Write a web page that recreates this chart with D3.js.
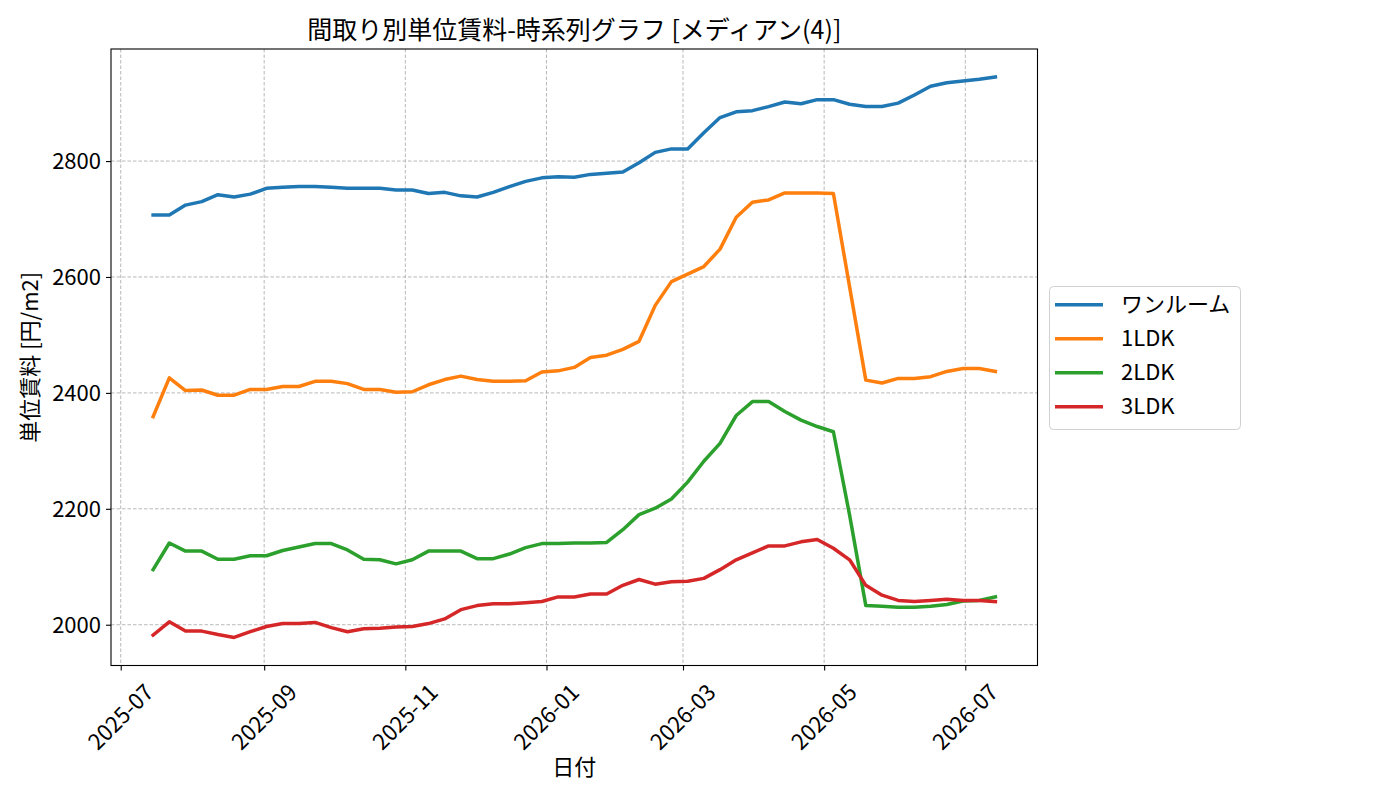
<!DOCTYPE html>
<html lang="ja">
<head>
<meta charset="utf-8">
<script src="https://cdn.jsdelivr.net/npm/d3@7"></script>
<style>
  body { margin: 0; background: #fff; }
  text { font-family: "Noto Sans CJK JP", "Noto Sans", sans-serif; }
</style>
</head>
<body>
<div id="ts-chart"></div>
<script>
// Data (weekly medians)
const dates = [
    "2025-07-15","2025-07-22","2025-07-29","2025-08-05","2025-08-12","2025-08-19","2025-08-26",
    "2025-09-02","2025-09-09","2025-09-16","2025-09-23","2025-09-30","2025-10-07","2025-10-14",
    "2025-10-21","2025-10-28","2025-11-04","2025-11-11","2025-11-18","2025-11-25","2025-12-02",
    "2025-12-09","2025-12-16","2025-12-23","2025-12-30","2026-01-06","2026-01-13","2026-01-20",
    "2026-01-27","2026-02-03","2026-02-10","2026-02-17","2026-02-24","2026-03-03","2026-03-10",
    "2026-03-17","2026-03-24","2026-03-31","2026-04-07","2026-04-14","2026-04-21","2026-04-28",
    "2026-05-05","2026-05-12","2026-05-19","2026-05-26","2026-06-02","2026-06-09","2026-06-16",
    "2026-06-23","2026-06-30","2026-07-07","2026-07-14"
];

const oneRoom = [
    2707,2707,2724,2730,2742,2738,2743,2753,2755,2756,
    2756,2755,2753,2753,2753,2750,2750,2744,2746,2740,
    2738,2746,2756,2765,2771,2773,2772,2777,2779,2781,
    2797,2815,2821,2821,2849,2875,2885,2887,2894,2902,
    2899,2906,2906,2898,2894,2894,2900,2914,2929,2935,
    2938,2941,2945
];
const ldk1 = [
    2359,2426,2404,2405,2396,2396,2406,2406,2411,2411,
    2420,2420,2416,2406,2406,2401,2402,2414,2423,2429,
    2423,2420,2420,2421,2436,2438,2444,2461,2465,2475,
    2489,2551,2592,2605,2618,2648,2703,2729,2733,2745,
    2745,2745,2744,2583,2422,2417,2425,2425,2428,2437,
    2442,2442,2437
];
const ldk2 = [
    2095,2141,2127,2127,2113,2113,2119,2119,2128,2134,
    2140,2140,2129,2113,2112,2105,2112,2127,2127,2127,
    2114,2114,2122,2133,2140,2140,2141,2141,2142,2164,
    2190,2201,2217,2246,2282,2313,2361,2385,2385,2368,
    2353,2342,2333,2189,2033,2032,2030,2030,2032,2035,
    2041,2042,2048
];
const ldk3 = [
    1982,2005,1989,1989,1983,1978,1988,1997,2002,2002,
    2004,1995,1988,1993,1994,1996,1997,2002,2010,2026,
    2033,2036,2036,2038,2040,2048,2048,2053,2053,2068,
    2078,2070,2074,2075,2080,2095,2112,2124,2136,2136,
    2143,2147,2132,2112,2068,2051,2042,2040,2042,2044,
    2042,2042,2040
];

const seriesNames = ["ワンルーム", "1LDK", "2LDK", "3LDK"];
const seriesValues = [oneRoom, ldk1, ldk2, ldk3];
const seriesColors = ["#1f77b4", "#ff7f0e", "#2ca02c", "#d62728"];
const yTicks = [2000, 2200, 2400, 2600, 2800];

const width = 1400, height = 800;
const margin = {top: 49, right: 362.5, bottom: 134.5, left: 111};
const innerWidth = width - margin.left - margin.right;
const innerHeight = height - margin.top - margin.bottom;

const parseDate = d3.utcParse("%Y-%m-%d");
const timeData = dates.map(parseDate);
const series = seriesNames.map((name, i) => ({
    name,
    color: seriesColors[i],
    values: timeData.map((t, j) => ({date: t, value: seriesValues[i][j]}))
}));

// SVG Container
const svg = d3.select("#ts-chart")
    .append("svg")
    .attr("width", width)
    .attr("height", height);

svg.append("rect")
    .attr("width", width)
    .attr("height", height)
    .attr("fill", "#fff");

const chartGroup = svg.append("g")
    .attr("transform", `translate(${margin.left},${margin.top})`);

// Scales (5% padding like matplotlib)
const [t0, t1] = d3.extent(timeData);
const tPad = (t1 - t0) * 0.05;
const x = d3.scaleUtc()
    .domain([new Date(+t0 - tPad), new Date(+t1 + tPad)])
    .range([0, innerWidth]);

const allValues = seriesValues.flat();
const vMin = d3.min(allValues), vMax = d3.max(allValues);
const vPad = (vMax - vMin) * 0.05;
const y = d3.scaleLinear()
    .domain([vMin - vPad, vMax + vPad])
    .range([innerHeight, 0]);

const xTicks = d3.utcMonth.every(2).range(new Date(Date.UTC(2025, 6, 1)), new Date(+t1 + tPad));

// Grid
chartGroup.append("g")
    .selectAll("line")
    .data(xTicks)
    .join("line")
    .attr("x1", d => x(d))
    .attr("x2", d => x(d))
    .attr("y1", 0)
    .attr("y2", innerHeight)
    .attr("stroke", "#b0b0b0")
    .attr("stroke-width", 0.9)
    .attr("stroke-dasharray", "3.5,2");

chartGroup.append("g")
    .selectAll("line")
    .data(yTicks)
    .join("line")
    .attr("x1", 0)
    .attr("x2", innerWidth)
    .attr("y1", d => y(d))
    .attr("y2", d => y(d))
    .attr("stroke", "#b0b0b0")
    .attr("stroke-width", 0.9)
    .attr("stroke-dasharray", "3.5,2");

// Lines
const line = d3.line()
    .x(d => x(d.date))
    .y(d => y(d.value));

chartGroup.selectAll("path.series")
    .data(series)
    .join("path")
    .attr("class", "series")
    .attr("d", d => line(d.values))
    .attr("fill", "none")
    .attr("stroke", d => d.color)
    .attr("stroke-width", 3.5)
    .attr("stroke-linejoin", "round")
    .attr("stroke-linecap", "square");

// Frame
chartGroup.append("rect")
    .attr("width", innerWidth)
    .attr("height", innerHeight)
    .attr("fill", "none")
    .attr("stroke", "#000")
    .attr("stroke-width", 1.1);

// X-axis
const xAxis = chartGroup.append("g")
    .attr("transform", `translate(0,${innerHeight})`)
    .call(d3.axisBottom(x).tickValues(xTicks).tickSize(5).tickFormat(d3.utcFormat("%Y-%m")));
xAxis.select(".domain").remove();
xAxis.selectAll("line").attr("stroke-width", 1.1);
xAxis.selectAll("text")
    .attr("y", 0)
    .attr("dy", 0)
    .attr("transform", "translate(-2,50) rotate(-45)")
    .attr("dominant-baseline", "central")
    .style("text-anchor", "middle")
    .style("font-size", "22px")
    .style("fill", "#000");

// Y-axis
const yAxis = chartGroup.append("g")
    .call(d3.axisLeft(y).tickValues(yTicks).tickSize(5).tickPadding(5).tickFormat(d3.format("d")));
yAxis.select(".domain").remove();
yAxis.selectAll("line").attr("stroke-width", 1.1);
yAxis.selectAll("text")
    .attr("dy", "0.35em")
    .style("font-size", "22px")
    .style("fill", "#000");

// Labels
svg.append("text")
    .attr("x", margin.left + innerWidth / 2)
    .attr("y", 39)
    .attr("text-anchor", "middle")
    .style("font-size", "25px")
    .text("間取り別単位賃料-時系列グラフ [メディアン(4)]");

svg.append("text")
    .attr("x", margin.left + innerWidth / 2)
    .attr("y", 775)
    .attr("text-anchor", "middle")
    .style("font-size", "22px")
    .text("日付");

svg.append("text")
    .attr("transform", `translate(38,${margin.top + innerHeight / 2}) rotate(-90)`)
    .attr("text-anchor", "middle")
    .style("font-size", "22px")
    .text("単位賃料 [円/m2]");

// Legend
const legend = svg.append("g")
    .attr("transform", "translate(1049,286)");

legend.append("rect")
    .attr("x", 0.5)
    .attr("y", 0.5)
    .attr("width", 191)
    .attr("height", 143)
    .attr("rx", 4)
    .attr("fill", "#fff")
    .attr("stroke", "#d0d0d0")
    .attr("stroke-width", 1);

const legendItems = legend.selectAll("g.item")
    .data(series)
    .join("g")
    .attr("class", "item")
    .attr("transform", (d, i) => `translate(0,${18.7 + i * 34})`);

legendItems.append("line")
    .attr("x1", 6)
    .attr("x2", 54)
    .attr("stroke", d => d.color)
    .attr("stroke-width", 3.5);

legendItems.append("text")
    .attr("x", 72)
    .attr("dy", "0.35em")
    .style("font-size", "22px")
    .style("fill", "#000")
    .text(d => d.name);
</script>
</body>
</html>
